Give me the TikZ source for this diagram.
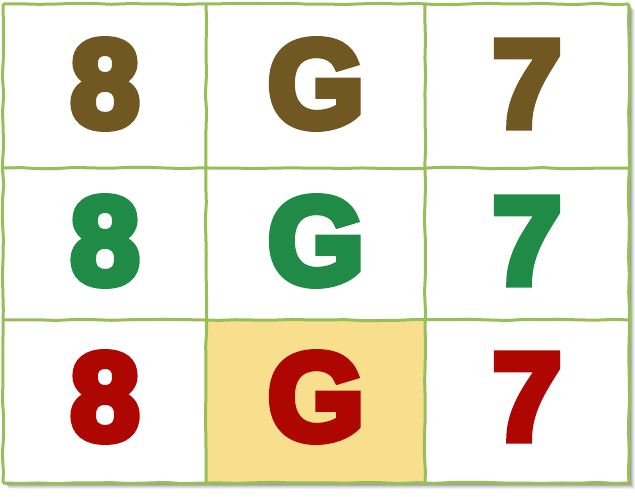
\documentclass[tikz,border=0pt]{standalone}
\usepackage{fontspec}
\usetikzlibrary{decorations.pathmorphing}
\newfontfamily\heavyfont[FakeBold=6.5]{Liberation Sans Bold}
\definecolor{gridgreen}{HTML}{97BE58}
\definecolor{cellyellow}{HTML}{F7DF8D}
\definecolor{cbrown}{HTML}{715722}
\definecolor{cgreen}{HTML}{1F8B47}
\definecolor{cred}{HTML}{AE0600}
\tikzset{
  gridline/.style={draw=gridgreen, line width=3pt,
    decorate, decoration={random steps, segment length=18pt, amplitude=0.7pt}},
  glyph/.style={font=\heavyfont\fontsize{124}{124}\selectfont, inner sep=0pt, anchor=center}
}
\begin{document}
\begin{tikzpicture}[x=1pt,y=-1pt]
\pgfmathsetseed{7}
\useasboundingbox (0,0) rectangle (635,497);
% shadow
\foreach \o/\op in {6/0.05,5/0.07,4/0.09,3/0.11,2/0.13}{
  \fill[black,opacity=\op] (3+\o,4+\o) rectangle (629+\o,483+\o);
}
\fill[white] (3,4) rectangle (629,483);
% highlighted cell
\fill[cellyellow] (206,320) rectangle (425,483);
% grid
\draw[gridline] (3,4) -- (629,4);
\draw[gridline] (3,168) -- (629,168);
\draw[gridline] (3,320) -- (629,320);
\draw[gridline] (3,483) -- (629,483);
\draw[gridline] (3,4) -- (3,483);
\draw[gridline] (206,4) -- (206,483);
\draw[gridline] (425,4) -- (425,483);
\draw[gridline] (629,4) -- (629,483);
% glyphs
\node[glyph, text=cbrown] (a1) at (105,84) {8};
\node[glyph, text=cbrown] (a2) at (316,84) {G};
\node[glyph, text=cbrown] (a3) at (527,84) {7};
\node[glyph, text=cgreen] (b1) at (105,241) {8};
\node[glyph, text=cgreen] (b2) at (316,241) {G};
\node[glyph, text=cgreen] (b3) at (527,241) {7};
\node[glyph, text=cred] (c1) at (105,397) {8};
\node[glyph, text=cred] (c2) at (316,397) {G};
\node[glyph, text=cred] (c3) at (527,397) {7};
\end{tikzpicture}
\end{document}
